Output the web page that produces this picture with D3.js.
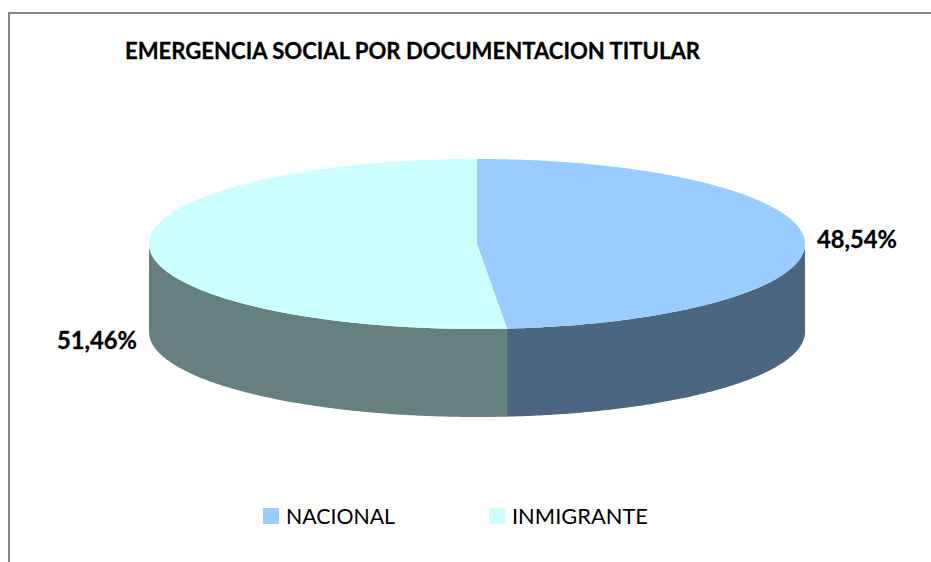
<!DOCTYPE html>
<html>
<head>
<meta charset="utf-8">
<script src="https://cdn.jsdelivr.net/npm/d3@7"></script>
<style>
  html, body { margin: 0; padding: 0; background: #ffffff; overflow: hidden; }
  svg { display: block; overflow: hidden; }
</style>
</head>
<body>
<svg id="chart" width="931" height="562"></svg>
<script>
// ---- data ----
const categories = ["NACIONAL", "INMIGRANTE"];
const values = [48.54, 51.46];
const valueLabels = ["48,54%", "51,46%"];
const title = "EMERGENCIA SOCIAL POR DOCUMENTACION TITULAR";

// ---- style ----
const topColors = ["#99CCFF", "#CCFFFF"];
const sideColors = ["#4B6680", "#668080"];
const fontFam = "Lato, 'Open Sans', 'DejaVu Sans', sans-serif";

const svg = d3.select("#chart");

// frame (top and left edges visible)
svg.append("line").attr("x1", 9).attr("y1", 13).attr("x2", 931).attr("y2", 13)
  .attr("stroke", "#868686").attr("stroke-width", 2);
svg.append("line").attr("x1", 9).attr("y1", 12).attr("x2", 9).attr("y2", 562)
  .attr("stroke", "#868686").attr("stroke-width", 2);

// title
svg.append("text")
  .attr("x", 125).attr("y", 59)
  .attr("font-family", fontFam).attr("font-weight", "bold")
  .attr("font-size", 23).attr("fill", "#000")
  .attr("stroke", "#000").attr("stroke-width", 0.3)
  .attr("textLength", 575).attr("lengthAdjust", "spacingAndGlyphs")
  .text(title);

// 3D pie geometry
const cx = 477, cy = 244, rx = 328, ry = 85, depth = 88;
const pie = d3.pie().sort(null).startAngle(0).endAngle(2 * Math.PI);
const arcs = pie(values);

const xs = d3.scaleLinear().domain([-1, 1]).range([cx - rx, cx + rx]);
const ys = d3.scaleLinear().domain([-1, 1]).range([cy - ry, cy + ry]);
function pt(a, dy) { return [xs(Math.sin(a)), ys(-Math.cos(a)) + (dy || 0)]; }
function arcPts(a0, a1, dy) {
  const n = Math.max(2, Math.ceil((a1 - a0) / 0.01));
  const out = [];
  for (let i = 0; i <= n; i++) out.push(pt(a0 + (a1 - a0) * i / n, dy));
  return out;
}
const line = d3.line();
const g = svg.append("g");

// sides (front half only)
arcs.forEach((d, i) => {
  const s = Math.max(d.startAngle, Math.PI / 2);
  const e = Math.min(d.endAngle, 3 * Math.PI / 2);
  if (e > s) {
    const top = arcPts(s, e, 0);
    const bot = arcPts(s, e, depth).reverse();
    g.append("path")
      .attr("d", line(top.concat(bot)) + "Z")
      .attr("fill", sideColors[i]);
  }
});

// tops
arcs.forEach((d, i) => {
  const pts = [[cx, cy]].concat(arcPts(d.startAngle, d.endAngle, 0));
  g.append("path")
    .attr("d", line(pts) + "Z")
    .attr("fill", topColors[i]);
});

// value labels
const labelPos = [
  { x: cx + rx + 12, y: cy + 4, anchor: "start" },
  { x: cx - rx - 12, y: cy + depth + 17, anchor: "end" }
];
arcs.forEach((d, i) => {
  svg.append("text")
    .attr("x", labelPos[i].x).attr("y", labelPos[i].y)
    .attr("text-anchor", labelPos[i].anchor)
    .attr("font-family", fontFam).attr("font-weight", "bold")
    .attr("font-size", 24).attr("fill", "#000")
    .attr("stroke", "#000").attr("stroke-width", 0.3)
    .attr("textLength", 80).attr("lengthAdjust", "spacingAndGlyphs")
    .text(valueLabels[i]);
});

// legend
const legX = [263, 489];
const legTextW = [109, 136];
categories.forEach((c, i) => {
  svg.append("rect")
    .attr("x", legX[i]).attr("y", 508).attr("width", 16).attr("height", 16)
    .attr("fill", topColors[i]);
  svg.append("text")
    .attr("x", legX[i] + 23).attr("y", 524)
    .attr("font-family", fontFam).attr("font-size", 22).attr("fill", "#000")
    .attr("textLength", legTextW[i]).attr("lengthAdjust", "spacingAndGlyphs")
    .text(c);
});
</script>
</body>
</html>
